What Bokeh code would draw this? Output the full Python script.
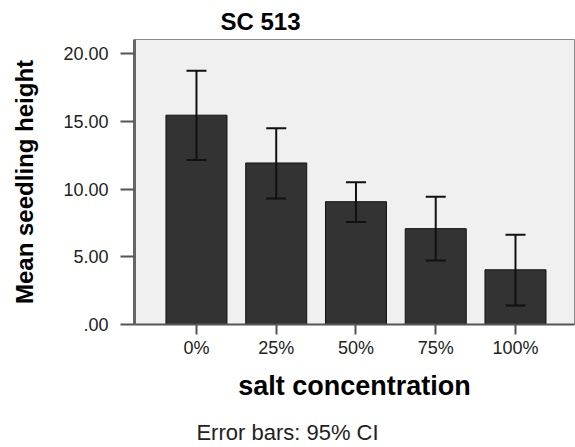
from bokeh.plotting import figure
from bokeh.models import (Range1d, FixedTicker, Whisker, ColumnDataSource, Title,
                          TeeHead, LinearAxis)
from bokeh.embed import file_html
from bokeh.resources import INLINE

# Mean seedling height by salt concentration, with 95% CI
categories = ["0%", "25%", "50%", "75%", "100%"]
mean_height = [15.46, 11.93, 9.07, 7.08, 4.04]
ci_upper = [18.75, 14.49, 10.51, 9.43, 6.62]
ci_lower = [12.15, 9.31, 7.57, 4.73, 1.40]
y_ticks = [0, 5, 10, 15, 20]
y_tick_labels = [".00", "5.00", "10.00", "15.00", "20.00"]

xpos = list(range(1, len(categories) + 1))
src = ColumnDataSource(dict(x=xpos, top=mean_height, upper=ci_upper, lower=ci_lower))

FONT = "Liberation Sans"

p = figure(width=575, height=447, output_backend="svg", toolbar_location=None,
           x_range=Range1d(0.223, 5.74), y_range=Range1d(0, 21.05),
           min_border_left=134, min_border_right=1, min_border_top=39,
           min_border_bottom=122)

p.title = Title(text="SC 513", align="left", offset=86, vertical_align="bottom",
                standoff=9, text_font=FONT, text_font_style="bold",
                text_font_size="24px", text_color="black")

p.background_fill_color = "#f0f0f0"
p.border_fill_color = "white"
p.outline_line_color = "#8a8a8a"
p.outline_line_width = 1
p.xgrid.visible = False
p.ygrid.visible = False

p.vbar(x="x", top="top", width=0.765, bottom=0, source=src,
       fill_color="#333333", line_color="#111111", line_width=1)

whisk = Whisker(base="x", upper="upper", lower="lower", source=src,
                line_color="#111111", line_width=2, level="overlay",
                upper_head=TeeHead(size=20, line_color="#111111", line_width=2),
                lower_head=TeeHead(size=20, line_color="#111111", line_width=2))
p.add_layout(whisk)

# x axis
p.xaxis.ticker = FixedTicker(ticks=xpos)
p.xaxis.major_label_overrides = {x: c for x, c in zip(xpos, categories)}
p.xaxis.axis_label = "salt concentration"
p.xaxis.axis_label_text_font = FONT
p.xaxis.axis_label_text_font_style = "bold"
p.xaxis.axis_label_text_font_size = "27px"
p.xaxis.axis_label_text_color = "black"
p.xaxis.axis_label_standoff = 10
p.xaxis.major_label_text_font = FONT
p.xaxis.major_label_text_font_size = "18px"
p.xaxis.major_label_text_color = "#222222"
p.xaxis.major_label_standoff = 3
p.xaxis.major_tick_out = 10
p.xaxis.major_tick_in = 0
p.xaxis.major_tick_line_width = 2
p.xaxis.major_tick_line_color = "#555555"
p.xaxis.minor_tick_line_color = None
p.xaxis.axis_line_color = "#555555"
p.xaxis.axis_line_width = 2

# y axis
p.yaxis.ticker = FixedTicker(ticks=y_ticks)
p.yaxis.major_label_overrides = {t: l for t, l in zip(y_ticks, y_tick_labels)}
p.yaxis.axis_label = "Mean seedling height"
p.yaxis.axis_label_text_font = FONT
p.yaxis.axis_label_text_font_style = "bold"
p.yaxis.axis_label_text_font_size = "24px"
p.yaxis.axis_label_text_color = "black"
p.yaxis.axis_label_standoff = 22
p.yaxis.major_label_text_font = FONT
p.yaxis.major_label_text_font_size = "18px"
p.yaxis.major_label_text_color = "#222222"
p.yaxis.major_label_standoff = 12
p.yaxis.major_tick_out = 14
p.yaxis.major_tick_in = 0
p.yaxis.major_tick_line_width = 2
p.yaxis.major_tick_line_color = "#555555"
p.yaxis.minor_tick_line_color = None
p.yaxis.axis_line_color = "#666666"
p.yaxis.axis_line_width = 3

# footnote: a bare pixel-scaled axis under the x axis carrying one label
p.extra_x_ranges = {"foot": Range1d(0, 440)}
foot = LinearAxis(x_range_name="foot", ticker=FixedTicker(ticks=[153]),
                  major_label_overrides={153: "Error bars: 95% CI"},
                  major_label_text_font=FONT, major_label_text_font_size="22px",
                  major_label_text_color="#222222", major_label_standoff=16,
                  axis_line_color=None, major_tick_line_color=None,
                  minor_tick_line_color=None, major_tick_out=0, major_tick_in=0,
                  minor_tick_out=0, minor_tick_in=0)
p.add_layout(foot, "below")

open("out.html", "w").write(file_html(p, INLINE))
